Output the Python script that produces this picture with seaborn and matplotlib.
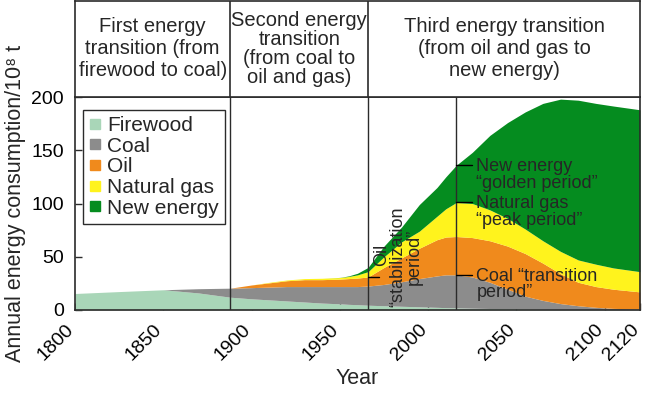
import numpy as np
import seaborn as sns
from matplotlib import pyplot as plt
from matplotlib.lines import Line2D
from matplotlib.transforms import ScaledTranslation

# values (10^8 t per year)
years = [1800, 1825, 1850, 1870, 1888, 1900, 1910, 1920, 1930, 1940, 1950, 1955, 1960, 1966,
         1975, 1985, 1995, 2005, 2010, 2016, 2025, 2035, 2045, 2055, 2065, 2075, 2085, 2095,
         2105, 2120]
firewood = [15.5, 17.3, 19, 16, 12, 10.5, 9.5, 8.5, 7.5, 6.5, 5.8, 5.3, 5.0, 4.5,
            4.0, 3.5, 3.0, 2.5, 2.2, 2.0, 1.7, 1.4, 1.2, 1.0, 0.8, 0.7, 0.6, 0.5,
            0.4, 0.3]
coal = [0, 0, 0, 4, 8.5, 10.5, 12, 13.5, 14.5, 15.5, 16.2, 16.7, 17, 18,
        20, 23, 26.5, 29.5, 30.8, 31, 29.3, 24.6, 18.3, 12, 8.2, 5.3, 3.4, 2.0,
        1.1, 0.7]
oil = [0, 0, 0, 0, 0, 2.5, 4, 5.5, 6.5, 6.5, 7, 7.5, 8, 8.5,
       16, 22.5, 28.5, 34, 35.5, 36, 37, 39, 40.5, 40, 35, 28, 22, 19.5,
       18, 16]
natural_gas = [0, 0, 0, 0, 0, 0, 0.5, 0.7, 1.0, 1.3, 1.5, 2.0, 3.0, 5.0,
               10, 15, 16, 22, 26.5, 32, 32, 29, 26, 23, 21, 21, 21, 21,
               20, 19]
new_energy = [0, 0, 0, 0, 0, 0, 0, 0, 0, 0, 0.1, 0.5, 1.5, 4,
              10, 14, 25, 27, 30, 35, 48, 70, 90, 110, 129, 143, 150, 151,
              152, 152]

labels = ['Firewood', 'Coal', 'Oil', 'Natural gas', 'New energy']
colors = ['#a9d6b8', '#8c8c8c', '#f08a1c', '#fff31d', '#058c1f']
x_ticks = [1800, 1850, 1900, 1950, 2000, 2050, 2100, 2120]
y_ticks = [0, 50, 100, 150, 200]
stage_years = [1888, 1966, 2016]
stage_titles = ['First energy\ntransition (from\nfirewood to coal)',
                'Second energy\ntransition\n(from coal to\noil and gas)',
                'Third energy transition\n(from oil and gas to\nnew energy)']

sns.set_style('ticks')
plt.rcParams['font.family'] = ['Liberation Sans', 'DejaVu Sans']
line_col = '#2b2b2b'

fig = plt.figure(figsize=(6.5, 3.94), dpi=100)
ax = fig.add_axes([75 / 650, 84 / 394, 565 / 650, 213 / 394])
hx = fig.add_axes([75 / 650, 297 / 394, 565 / 650, 96 / 394])

series = [firewood, coal, oil, natural_gas, new_energy]
ax.stackplot(years, *series, colors=colors, linewidth=0)
tops = np.cumsum(np.array(series), axis=0)

ax.set_xlim(1800, 2120)
ax.set_ylim(0, 200)
ax.set_xticks(x_ticks)
ax.set_yticks(y_ticks)
ax.set_xticklabels([str(t) for t in x_ticks], rotation=45, ha='right', va='top',
                   rotation_mode='anchor')
ax.tick_params(direction='in', length=5, width=1, pad=8, labelsize=14, colors=line_col,
               labelcolor='black')
shift = ScaledTranslation(-7 / 72, 0, fig.dpi_scale_trans)
for lbl in ax.get_xticklabels():
    lbl.set_transform(lbl.get_transform() + shift)
for s in ax.spines.values():
    s.set_color(line_col)
    s.set_linewidth(1.2)
ax.set_xlabel('Year', fontsize=15.5, labelpad=3)
ax.set_ylabel('Annual energy consumption/10⁸ t', fontsize=15.5, labelpad=4)

for yr in stage_years:
    ax.axvline(yr, color=line_col, lw=1)

# short leader ticks for the period notes
i16 = years.index(2016)
i66 = years.index(1966)
notes = [(tops[4][i16], 'New energy\n\u201cgolden period\u201d'),
         (tops[3][i16], 'Natural gas\n\u201cpeak period\u201d'),
         (tops[1][i16], 'Coal \u201ctransition\nperiod\u201d')]
for val, txt in notes:
    ax.plot([2016, 2025], [val, val], color='black', lw=1)
    ax.annotate(txt, xy=(2025, val), xytext=(3, 5), textcoords='offset points',
                ha='left', va='top', fontsize=13, linespacing=0.95)
ax.plot([1966, 1972], [tops[2][i66], tops[2][i66]], color='black', lw=1)
ax.text(1973.5, 52, 'Oil', rotation=90, ha='center', va='center', fontsize=13)
ax.text(1987.5, 50, '\u201cstabilization\nperiod\u201d', rotation=90, ha='center',
        va='center', fontsize=13, linespacing=0.95, multialignment='center')

handles = [Line2D([], [], marker='s', ls='', color=c, markersize=7.5) for c in colors]
leg = ax.legend(handles, labels, loc='upper left', bbox_to_anchor=(0.014, 0.94),
                borderaxespad=0, fontsize=15, handlelength=0.6, handletextpad=0.25,
                labelspacing=0.08, borderpad=0.3, fancybox=False, framealpha=1)
leg.get_frame().set_edgecolor(line_col)
leg.get_frame().set_linewidth(1)

# header with the three transitions
hx.set_xlim(1800, 2120)
hx.set_ylim(0, 1)
hx.set_xticks([])
hx.set_yticks([])
for s in hx.spines.values():
    s.set_color(line_col)
    s.set_linewidth(1.2)
bounds = [1800] + stage_years[:2] + [2120]
for yr in stage_years[:2]:
    hx.axvline(yr, color=line_col, lw=1.2)
for k, title in enumerate(stage_titles):
    hx.text((bounds[k] + bounds[k + 1]) / 2, 0.5, title, ha='center', va='center',
            fontsize=14.5, linespacing=0.98 if k == 1 else 1.2)

fig.savefig('out.png', dpi=100)
plt.close(fig)
